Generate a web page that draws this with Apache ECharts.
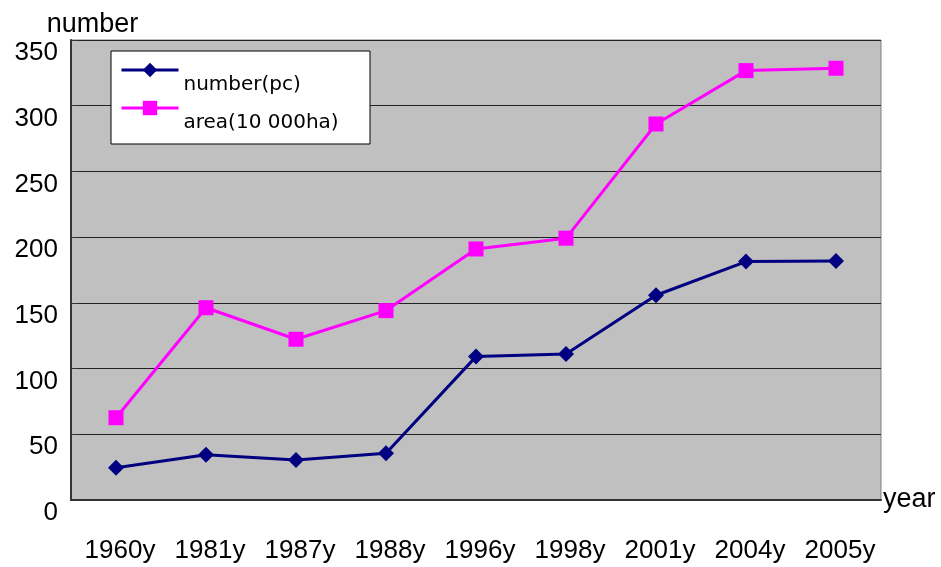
<!DOCTYPE html>
<html>
<head>
<meta charset="utf-8">
<script src="https://cdn.jsdelivr.net/npm/echarts@6/dist/echarts.min.js"></script>
<style>
  html, body { margin: 0; padding: 0; background: #fff; }
  #chart { width: 941px; height: 567px; }
</style>
</head>
<body>
<div id="chart"></div>
<script>
  // 年份
  const years = ['1960y', '1981y', '1987y', '1988y', '1996y', '1998y', '2001y', '2004y', '2005y']
  // 数量 (pc)
  const numberPc = [24.6, 34.5, 30.4, 35.5, 109.1, 111.1, 155.8, 181.4, 181.9]
  // 面积 (10 000ha)
  const area = [62.6, 146.3, 122.3, 144.1, 191.0, 199.2, 286.1, 326.7, 328.5]

  const font = 'Liberation Sans, Arial, sans-serif'

  const chart = echarts.init(document.getElementById('chart'))

  chart.setOption({
    animation: false,
    backgroundColor: '#fff',
    grid: {
      left: 71, right: 60, top: 40, bottom: 67,
      show: true,
      backgroundColor: '#C0C0C0',
      borderColor: '#808080',
      borderWidth: 1
    },
    // 图例外框
    graphic: [{
      type: 'rect',
      z: 3,
      shape: { x: 111, y: 51, width: 259, height: 93 },
      style: { fill: '#fff', stroke: '#000', lineWidth: 1 }
    }],
    legend: {
      orient: 'vertical',
      left: 120,
      top: 45,
      padding: 0,
      itemGap: -12,
      itemWidth: 57,
      itemHeight: 18,
      lineStyle: { width: 3 },
      formatter: '{t|{name}}',
      textStyle: {
        rich: {
          t: {
            fontFamily: 'DejaVu Sans, sans-serif',
            fontSize: 20,
            color: '#000',
            lineHeight: 20,
            padding: [30, 0, 0, 0]
          }
        }
      },
      data: ['number(pc)', 'area(10 000ha)']
    },
    xAxis: {
      type: 'category',
      data: years,
      boundaryGap: true,
      name: 'year',
      nameLocation: 'end',
      nameGap: 2,
      nameTextStyle: { fontFamily: font, fontSize: 27, color: '#000', padding: [0, 0, 10, 0] },
      axisLine: { lineStyle: { color: '#333', width: 2 } },
      axisTick: { inside: true, length: 8, lineStyle: { color: '#333' } },
      axisLabel: { fontFamily: font, fontSize: 26, color: '#000', margin: 38, interval: 0, padding: [0, 0, 0, 8] }
    },
    yAxis: {
      type: 'value',
      min: 0,
      max: 350,
      interval: 50,
      name: 'number',
      nameLocation: 'end',
      nameGap: 2,
      nameTextStyle: { fontFamily: font, fontSize: 27, color: '#000', padding: [0, 0, 0, 43] },
      axisLine: { show: true, lineStyle: { color: '#333', width: 2 } },
      axisTick: { show: true, inside: true, length: 7, lineStyle: { color: '#333' } },
      axisLabel: { fontFamily: font, fontSize: 26, color: '#000', margin: 13, verticalAlign: 'top' },
      splitLine: { show: true, lineStyle: { color: '#222', width: 1 } }
    },
    series: [
      {
        name: 'number(pc)',
        type: 'line',
        data: numberPc,
        symbol: 'diamond',
        symbolSize: 16,
        lineStyle: { color: '#000080', width: 3 },
        itemStyle: { color: '#000080' }
      },
      {
        name: 'area(10 000ha)',
        type: 'line',
        data: area,
        symbol: 'rect',
        symbolSize: 15,
        lineStyle: { color: '#FF00FF', width: 3 },
        itemStyle: { color: '#FF00FF' }
      }
    ]
  })
</script>
</body>
</html>
